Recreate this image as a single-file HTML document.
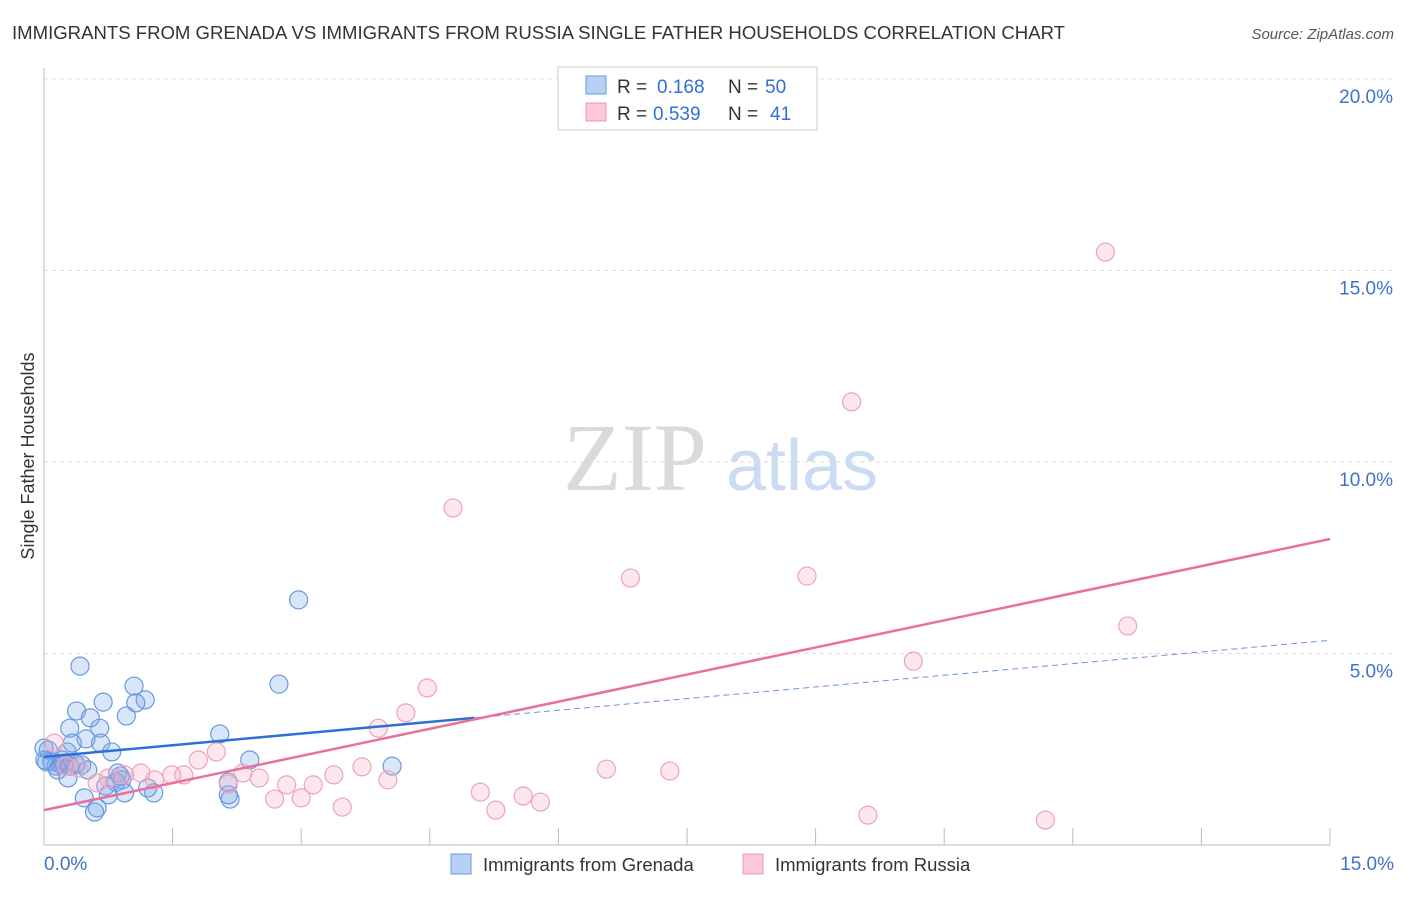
<!DOCTYPE html>
<html><head><meta charset="utf-8"><style>
body{margin:0;background:#fff;font-family:"Liberation Sans",sans-serif;}
</style></head><body>
<svg id="chart" width="1406" height="892" xmlns="http://www.w3.org/2000/svg" style="font-family:'Liberation Sans',sans-serif">
<text x="12" y="39" font-size="18.6" fill="#333" textLength="1053" lengthAdjust="spacingAndGlyphs">IMMIGRANTS FROM GRENADA VS IMMIGRANTS FROM RUSSIA SINGLE FATHER HOUSEHOLDS CORRELATION CHART</text>
<text x="1394" y="39" font-size="15" fill="#555" text-anchor="end" font-style="italic">Source: ZipAtlas.com</text>
<text transform="translate(34,456) rotate(-90)" font-size="18" fill="#333" text-anchor="middle">Single Father Households</text>
<g>
<text x="635" y="490" font-size="96" fill="#dadada" text-anchor="middle" style="font-family:'Liberation Serif',serif">ZIP</text>
<text x="802" y="490" font-size="72" fill="#cbdcf2" text-anchor="middle">atlas</text>
</g>
<g id="grid"></g>
<g id="axes"></g>
<g id="marks"></g>
<g>
<rect x="558" y="67" width="259" height="63" fill="#fff" stroke="#ccc"/>
<rect x="586" y="76" width="20" height="18" fill="#b8d0f5" stroke="#6a9ae0"/>
<rect x="586" y="103" width="20" height="18" fill="#fac8d8" stroke="#ea98b4"/>
<text x="617" y="93" font-size="19" fill="#333">R =</text>
<text x="657" y="93" font-size="19" fill="#2f6fd8">0.168</text>
<text x="728" y="93" font-size="19" fill="#333">N =</text>
<text x="765" y="93" font-size="19" fill="#2f6fd8">50</text>
<text x="617" y="120" font-size="19" fill="#333">R =</text>
<text x="653" y="120" font-size="19" fill="#2f6fd8">0.539</text>
<text x="728" y="120" font-size="19" fill="#333">N =</text>
<text x="770" y="120" font-size="19" fill="#2f6fd8">41</text>
</g>
<g>
<rect x="451" y="854" width="20" height="20" fill="#b8d0f5" stroke="#6a9ae0"/>
<text x="483" y="871" font-size="18.5" fill="#333">Immigrants from Grenada</text>
<rect x="743" y="854" width="20" height="20" fill="#fac8d8" stroke="#ea98b4"/>
<text x="775" y="871" font-size="18.5" fill="#333">Immigrants from Russia</text>
</g>
</svg>
<script>
const yTicks=[5,10,15,20];
const yTickLabels=["5.0%","10.0%","15.0%","20.0%"];
const xTickLabels=["0.0%","15.0%"];
const grenadaX=[2.97,0.42,2.74,1.05,1.18,0.69,1.07,0.96,0.38,0.54,0.30,0.65,0.49,2.05,0.66,0.33,0.05,0.27,0.79,2.40,4.06,0.09,0.14,0.23,0.37,0.44,0.86,0.19,0.28,0.91,2.15,0.84,0.72,0.94,1.28,1.21,0.47,0.75,2.17,0.62,0.59,0.03,0.21,0.0,0.89,2.15,0.30,0.01,0.16,0.51];
const grenadaY=[6.40,4.67,4.20,4.15,3.79,3.73,3.71,3.37,3.50,3.32,3.05,3.05,2.77,2.90,2.66,2.66,2.48,2.43,2.43,2.22,2.06,2.17,2.06,2.11,2.11,2.09,1.88,2.11,1.75,1.70,1.64,1.64,1.54,1.36,1.36,1.49,1.23,1.31,1.20,0.97,0.86,2.17,2.22,2.53,1.80,1.31,2.06,2.22,1.96,1.96];
const russiaX=[12.38,9.42,4.77,6.84,8.90,12.64,10.14,4.47,4.22,3.90,2.01,0.12,2.32,1.80,3.71,4.01,2.51,1.13,1.63,1.49,1.29,0.94,0.75,0.62,0.40,2.83,3.14,3.38,6.56,7.30,5.09,5.59,5.79,5.27,3.48,3.00,2.69,9.61,11.68,2.15,0.26];
const russiaY=[15.48,11.57,8.80,6.97,7.02,5.72,4.80,4.10,3.45,3.05,2.43,2.66,1.88,2.22,2.04,1.70,1.75,1.88,1.83,1.83,1.70,1.83,1.75,1.62,2.01,1.57,1.57,1.83,1.98,1.93,1.38,1.28,1.12,0.91,0.99,1.23,1.20,0.78,0.65,1.59,2.06];
const grenadaFit=[2.30,0.203];
const russiaFit=[0.91,0.472];
const NS='http://www.w3.org/2000/svg';
const X0=44,X1=1330,Y0=845,PXY=38.3;
function xs(v){return X0+v*(X1-X0)/15;}
function ys(v){return Y0-v*PXY;}
function mk(tag,attrs,parent){const e=document.createElementNS(NS,tag);for(const k in attrs)e.setAttribute(k,attrs[k]);document.getElementById(parent).appendChild(e);return e;}
yTicks.forEach((t,i)=>{
 const l=mk('line',{x1:X0,x2:1393,y1:ys(t),y2:ys(t),stroke:'#ddd','stroke-dasharray':'4,4'},'grid');
 
 
 const tx=mk('text',{x:1393,y:ys(t)+24,'font-size':19,fill:'#3f72cc','text-anchor':'end'},'grid');
 tx.textContent=yTickLabels[i];
 
 
});
let a=mk('line',{x1:X0,x2:X0,y1:68,y2:Y0,stroke:'#bbb'},'axes');


a=mk('line',{x1:X0,x2:X1,y1:Y0,y2:Y0,stroke:'#bbb'},'axes');


for(let i=1;i<=10;i++){const t=mk('line',{x1:xs(i*1.5),x2:xs(i*1.5),y1:828,y2:Y0,stroke:'#bbb'},'axes');
 
 }
let t0=mk('text',{x:44,y:870,'font-size':19,fill:'#3f72cc'},'axes');t0.textContent=xTickLabels[0];


let t1=mk('text',{x:1394,y:870,'font-size':19,fill:'#3f72cc','text-anchor':'end'},'axes');t1.textContent=xTickLabels[1];


grenadaX.forEach((v,i)=>{const c=mk('circle',{cx:xs(v),cy:ys(grenadaY[i]),r:9,fill:'rgba(120,165,235,0.28)',stroke:'#6b98dd','stroke-width':1.2},'marks');
 
 });
russiaX.forEach((v,i)=>{const c=mk('circle',{cx:xs(v),cy:ys(russiaY[i]),r:9,fill:'rgba(245,170,195,0.28)',stroke:'#eea2bd','stroke-width':1.2},'marks');
 
 });
let l=mk('line',{x1:xs(0),y1:ys(grenadaFit[0]),x2:xs(5.02),y2:ys(grenadaFit[0]+grenadaFit[1]*5.02),stroke:'#2e6fd6','stroke-width':2.5},'marks');


l=mk('line',{x1:xs(5.02),y1:ys(grenadaFit[0]+grenadaFit[1]*5.02),x2:xs(15),y2:ys(grenadaFit[0]+grenadaFit[1]*15),stroke:'#6a95d8','stroke-width':1,'stroke-dasharray':'6,4'},'marks');


l=mk('line',{x1:xs(0),y1:ys(russiaFit[0]),x2:xs(15),y2:ys(russiaFit[0]+russiaFit[1]*15),stroke:'#e8709a','stroke-width':2.5},'marks');


</script>
</body></html>
